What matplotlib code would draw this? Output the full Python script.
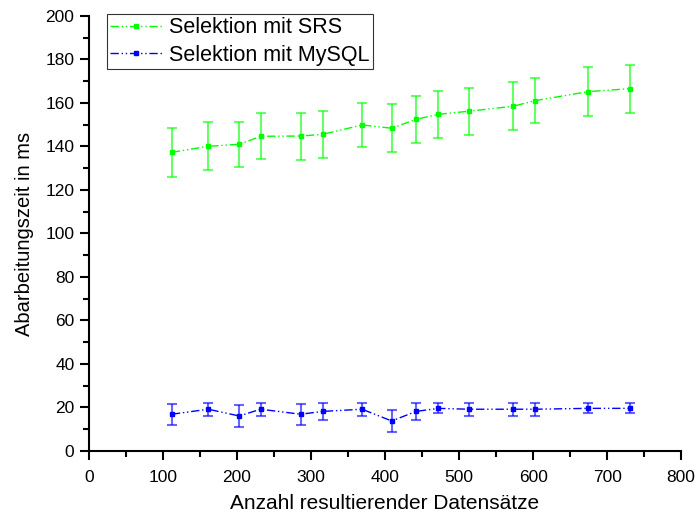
import matplotlib.pyplot as plt
from matplotlib.ticker import MultipleLocator

plt.rcParams['font.family'] = ['Liberation Sans', 'DejaVu Sans']

# Datensaetze (x) und Messwerte
datensaetze = [112, 161, 203, 232, 286, 316, 369, 409, 442, 472, 513, 573, 603, 674, 731]

srs_mean = [137.3, 140.1, 141.0, 144.7, 144.8, 145.6, 149.9, 148.4, 152.5, 154.8, 156.2, 158.5, 161.1, 165.2, 166.6]
srs_err = [11.3, 11.0, 10.2, 10.5, 10.8, 10.7, 10.0, 11.0, 10.8, 10.8, 10.7, 11.0, 10.5, 11.2, 11.0]

mysql_mean = [16.9, 19.2, 16.1, 19.2, 16.9, 18.2, 19.2, 13.8, 18.2, 19.6, 19.2, 19.2, 19.2, 19.6, 19.6]
mysql_err = [4.8, 3.0, 5.0, 3.0, 4.8, 4.0, 3.0, 4.9, 4.0, 2.3, 3.0, 3.0, 3.0, 2.3, 2.3]

fig = plt.figure(figsize=(6.95, 5.16), dpi=100)
ax = fig.add_axes([0.128, 0.126, 0.852, 0.843])

dash = (0, (6, 2, 1, 2, 1, 2))

for y, err, col, lab in [(srs_mean, srs_err, '#00ff00', 'Selektion mit SRS'),
                         (mysql_mean, mysql_err, '#0000ff', 'Selektion mit MySQL')]:
    ax.errorbar(datensaetze, y, yerr=err, fmt='none', ecolor=col, elinewidth=1.5,
                capsize=3.7, capthick=1.5, alpha=0.6)
    ax.plot(datensaetze, y, color=col, linestyle=dash, linewidth=1,
            marker='s', markersize=3, label=lab)

ax.set_xlim(0, 800)
ax.set_ylim(0, 200)
ax.xaxis.set_major_locator(MultipleLocator(100))
ax.xaxis.set_minor_locator(MultipleLocator(50))
ax.yaxis.set_major_locator(MultipleLocator(20))
ax.yaxis.set_minor_locator(MultipleLocator(10))

for s in ['top', 'right']:
    ax.spines[s].set_visible(False)
for s in ['left', 'bottom']:
    ax.spines[s].set_linewidth(1.5)

ax.tick_params(axis='x', which='major', direction='out', length=6.5, width=1.5,
               labelsize=12.5, pad=7)
ax.tick_params(axis='y', which='major', direction='out', length=6.5, width=1.5,
               labelsize=12.5, pad=4)
ax.tick_params(which='minor', direction='out', length=4, width=1.5)

ax.set_xlabel('Anzahl resultierender Datensätze', fontsize=15, labelpad=7)
ax.set_ylabel('Abarbeitungszeit in ms', fontsize=14.5, labelpad=8)

leg = ax.legend(loc='upper left', bbox_to_anchor=(0.03, 1.005), fontsize=15.5,
                frameon=True, fancybox=False, borderpad=0.15, handlelength=2.4,
                handletextpad=0.35, labelspacing=0.3, borderaxespad=0)
leg.get_frame().set_edgecolor('black')
leg.get_frame().set_linewidth(0.8)

fig.savefig('out.png', dpi=100)
